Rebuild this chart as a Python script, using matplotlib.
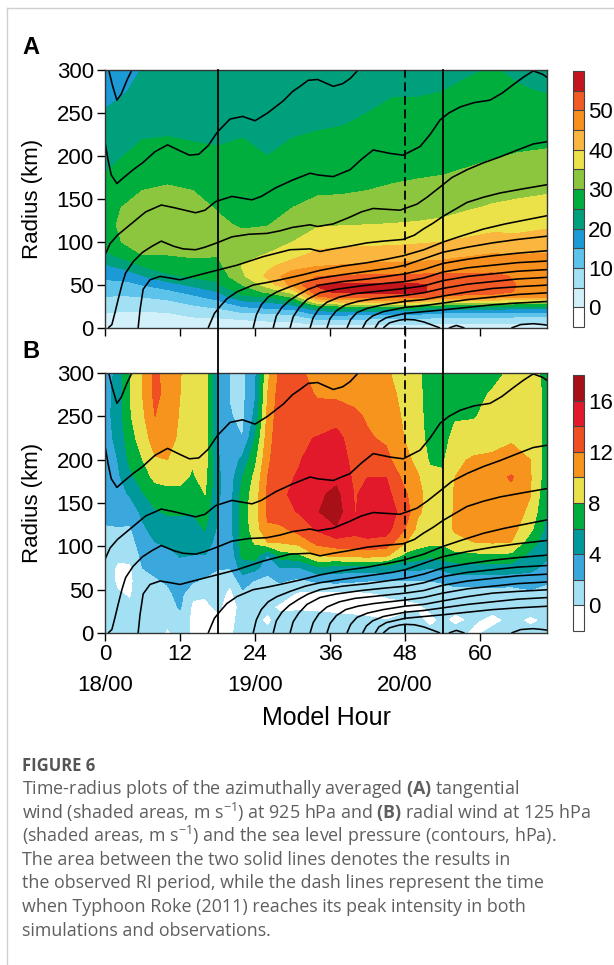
import numpy as np
import matplotlib
matplotlib.use('Agg')
import matplotlib.pyplot as plt
from matplotlib.lines import Line2D
import matplotlib.transforms as mtransforms

plt.rcParams['font.family'] = ['Liberation Sans', 'DejaVu Sans']
plt.rcParams['mathtext.fontset'] = 'custom'
plt.rcParams['mathtext.rm'] = 'Open Sans'
plt.rcParams['mathtext.bf'] = 'Open Sans:bold'
plt.rcParams['mathtext.it'] = 'Open Sans:italic'

# ---------------- data ----------------
# Panel A: tangential wind (m/s) at 925 hPa ; rows = hours_A, columns = radius_A
hours_A = [0, 3, 6, 10, 14, 18, 22, 26, 30, 34, 38, 42, 46, 50, 54, 58, 62, 66, 71]
radius_A = [0, 10, 18, 24, 30, 36, 42, 50, 60, 72, 85, 100, 120, 140, 160, 180, 200, 225, 250, 275, 300]
vt_A = [
    [1, 3, 5.2, 6.6, 8.2, 9.8, 11.3, 13.4, 16, 19.2, 23.8, 27, 28.5, 28.8, 27.5, 25, 23.8, 22.3, 20.3, 18.8, 17.5],
    [1, 2.8, 4.6, 6.2, 7.7, 9.5, 11.2, 13.4, 16.5, 21.5, 26.8, 30.4, 31, 30.2, 28.5, 27, 25, 23.2, 21.5, 19.7, 18.5],
    [1, 2.8, 4.6, 6.2, 8, 10, 11.8, 15, 19.5, 25, 30, 31.5, 32, 31.5, 30, 28, 26.3, 24.6, 22.8, 21.3, 20.2],
    [1, 3, 5, 7.3, 9, 11.2, 13.7, 17.5, 24, 27.5, 30, 31.5, 32.5, 32, 30.8, 28.3, 26.8, 24.8, 23.2, 22, 21],
    [1.5, 4, 6.8, 8.9, 11.2, 13.8, 16.5, 21, 25.8, 28.5, 30.5, 31.5, 32, 31.3, 30, 28, 26, 24.5, 23.2, 22.2, 21.3],
    [1.5, 4.2, 7.6, 10.5, 13.7, 16.7, 19.8, 24, 26.5, 28.5, 30.3, 31.5, 30.8, 29.7, 28.5, 27.2, 25.6, 24.3, 23.2, 22.2, 21.3],
    [2, 5.1, 10, 14.3, 18.6, 24, 27, 30, 34.2, 35.4, 33.5, 31.5, 29.5, 28.5, 27.8, 27, 26, 24.8, 23.7, 22.7, 21.7],
    [2.5, 5.6, 10.5, 16, 20, 25, 31, 37, 41, 39, 35.3, 32.5, 29.8, 28.6, 27.5, 26.2, 25, 24.3, 23.5, 22.5, 21.5],
    [2.5, 6, 12, 17, 24, 30.5, 37, 46.5, 48.5, 42.5, 38.3, 35, 32.3, 30, 28.3, 27, 26, 24.8, 23.8, 22.8, 22],
    [2, 10, 17.5, 25, 37.5, 49, 54.2, 55.3, 50, 44.9, 41.5, 37.8, 34.5, 31.5, 29.3, 27.8, 26.5, 25.2, 24, 23, 22.3],
    [2, 10, 18, 27, 40, 51.5, 55.8, 56, 50.5, 45.4, 42, 38.5, 34.8, 31.6, 29.5, 28, 26.8, 25.4, 24.4, 23.4, 22.6],
    [2, 9.5, 17.5, 27, 40, 52, 56.2, 56, 50.8, 46, 42.3, 38.8, 35, 32, 30, 28.5, 27.3, 26, 25, 24, 23],
    [2, 9, 17, 26.5, 40, 52, 56.2, 56, 51, 46.3, 42.5, 39, 35.2, 32.5, 30.5, 29.2, 28, 26.5, 25.5, 24.8, 24],
    [2, 9, 17, 26.5, 40, 51.5, 55.8, 55.6, 51, 46.5, 42.8, 39.5, 35.5, 33, 31, 29.5, 28.3, 27, 25.8, 24.7, 24.5],
    [2, 8, 15.5, 24, 37, 48.5, 53.5, 54, 51.2, 46.8, 43.5, 40, 36, 33.5, 31.5, 29.8, 28.5, 27.2, 26, 25, 24],
    [2, 8, 15, 23.5, 36, 48, 52.8, 53.5, 51.2, 47.3, 44.5, 41, 37.3, 34.5, 32.3, 30.5, 29, 27.7, 26.5, 25.7, 24.6],
    [2, 8, 15, 23, 35.5, 47.5, 52.2, 52.8, 51, 48, 45.3, 42, 38.3, 35.5, 33.3, 31.3, 29.7, 28.2, 27, 26, 25.2],
    [2, 7.5, 14.5, 22, 34, 45.5, 49.5, 49.8, 49.5, 48, 45, 41.5, 38.5, 36, 34, 32, 30.3, 28.3, 26.5, 25.3, 24.5],
    [2, 7.5, 14.5, 22, 34, 45.5, 49.3, 49.7, 49.5, 48.3, 45.5, 42.3, 39.3, 36.8, 34.5, 32.3, 30.7, 28.7, 26.8, 24.8, 24],
]

# Panel B: radial wind (m/s) at 125 hPa ; rows = hours_B, columns = radius_B
hours_B = [0, 2, 4, 6, 8, 10, 12, 14, 16, 18, 20, 22, 24, 26, 28, 31, 34, 37, 40, 42,
           45, 48, 50, 52, 54, 56, 59, 62, 65, 68, 71]
radius_B = [0, 15, 30, 45, 60, 75, 90, 105, 120, 140, 160, 180, 200, 225, 250, 275, 300]
vr_B = [
    [1.0, 1.0, 1.2, 1.2, 1.3, 1.4, 1.5, 1.7, 1.9, 2.3, 2.6, 2.8, 3.0, 3.2, 3.3, 3.3, 3.2],
    [0.8, 0.9, 0.6, 0.2, -0.4, -0.4, 0.6, 1.4, 1.9, 2.6, 3.2, 3.6, 4.0, 4.5, 4.8, 4.7, 4.4],
    [0.8, 0.5, 0.3, -0.2, -0.5, -0.3, 0.5, 1.2, 1.8, 2.8, 4.2, 5.5, 6.5, 7.2, 7.8, 8.0, 8.0],
    [0.6, 0.8, 1.0, 1.2, 1.5, 2.0, 2.5, 3.0, 3.6, 4.5, 5.8, 7.0, 8.0, 9.0, 9.6, 10.0, 10.0],
    [0.8, 0.8, 1.0, 1.4, 1.8, 2.4, 3.2, 4.0, 4.8, 5.8, 7.0, 8.5, 9.8, 11.0, 12.0, 12.5, 12.5],
    [-0.3, 0.5, 1.2, 1.6, 2.2, 2.8, 3.5, 4.3, 5.2, 6.2, 7.3, 8.7, 10.0, 10.8, 11.2, 11.3, 11.2],
    [0.8, 1.2, 2.2, 2.6, 3.0, 3.5, 4.1, 4.8, 5.4, 6.2, 7.5, 8.5, 9.2, 9.6, 9.8, 10.0, 10.1],
    [-0.3, -0.4, -0.3, 0.3, 2.3, 3.2, 4.0, 4.6, 5.3, 6.1, 7.2, 7.8, 8.2, 8.6, 8.9, 9.0, 9.0],
    [-0.2, -0.5, -0.4, 0.2, 1.5, 3.0, 4.0, 5.0, 6.1, 7.0, 8.0, 8.6, 8.8, 9.0, 9.0, 9.0, 9.0],
    [-0.3, -0.5, 0.3, 0.8, 1.5, 2.1, 2.8, 3.3, 3.7, 4.0, 4.2, 4.3, 4.2, 4.1, 4.0, 3.9, 3.8],
    [-0.2, -0.6, -0.7, -0.5, 0.3, 2.0, 2.6, 3.0, 3.2, 3.3, 3.2, 3.0, 2.7, 2.3, 2.1, 1.9, 1.9],
    [0.5, 0.8, 0.5, 1.5, 3.0, 5.0, 6.5, 7.0, 6.8, 7.0, 6.8, 6.0, 4.5, 2.0, 1.6, 1.5, 1.6],
    [0.3, 0.4, 0.6, 1.0, 1.8, 4.6, 7.0, 8.2, 9.0, 9.2, 9.0, 8.5, 7.5, 6.0, 4.5, 3.8, 3.5],
    [0.3, -0.3, 0.3, 1.0, 1.5, 2.6, 3.9, 10.0, 11.8, 12.3, 12.3, 12.0, 11.5, 11.0, 10.5, 10.0, 9.5],
    [0.8, 0.5, -0.3, 0.8, 2.2, 4.0, 7.0, 10.2, 11.5, 13.5, 13.8, 13.7, 13.6, 13.5, 13.3, 13.0, 12.5],
    [0.7, 0.5, -0.2, -0.3, 1.5, 3.8, 7.6, 10.8, 12.8, 14.1, 14.3, 14.1, 13.9, 13.7, 13.4, 12.9, 12.4],
    [0.8, 0.5, -0.3, -0.5, 2.3, 5.5, 10.3, 12.6, 14.3, 15.9, 15.6, 15.0, 14.6, 14.1, 12.9, 11.8, 11.2],
    [0.8, 0.4, -0.4, -0.5, 2.5, 5.0, 10.5, 13.3, 15.8, 17.0, 16.5, 15.5, 15.0, 14.6, 13.3, 11.6, 11.0],
    [0.6, 0.3, -0.5, -0.5, 2.2, 5.0, 10.8, 13.4, 14.6, 13.9, 13.8, 13.6, 13.4, 13.0, 12.3, 11.5, 11.0],
    [0.5, 0.2, -0.5, -0.3, 2.0, 5.0, 11.0, 13.6, 15.0, 15.0, 14.7, 14.0, 12.8, 12.2, 11.8, 11.3, 11.0],
    [0.4, 0.0, -0.5, 0.2, 2.0, 5.0, 10.5, 13.3, 14.8, 15.0, 14.6, 14.0, 12.5, 11.7, 11.0, 10.6, 10.2],
    [0.5, 0.3, -0.3, 0.3, 1.8, 4.5, 7.5, 10.2, 12.0, 13.2, 12.3, 11.3, 10.5, 9.9, 9.7, 9.5, 9.3],
    [0.4, 0.3, -0.2, 0.4, 2.0, 4.5, 7.2, 8.8, 9.5, 10.3, 10.6, 10.2, 9.5, 9.0, 8.8, 8.6, 8.5],
    [0.3, -0.3, 0.2, 0.8, 2.0, 4.0, 6.5, 8.5, 9.2, 9.4, 9.2, 8.6, 7.7, 7.2, 7.0, 7.0, 6.8],
    [0.6, 0.2, 0.4, 1.0, 2.2, 4.5, 7.0, 8.3, 8.8, 9.0, 8.8, 8.3, 7.7, 7.3, 7.0, 6.9, 6.8],
    [0.5, -0.3, 0.3, 1.0, 2.8, 5.0, 7.5, 9.3, 10.3, 10.2, 10.2, 10.0, 9.5, 8.6, 7.8, 7.3, 7.0],
    [-0.3, 0.2, 0.5, 1.0, 2.8, 5.2, 7.6, 10.0, 10.8, 11.0, 11.0, 10.8, 10.3, 8.6, 7.9, 7.5, 7.2],
    [0.4, -0.4, 0.5, 1.2, 2.8, 5.2, 7.8, 10.2, 11.0, 11.3, 11.5, 11.3, 10.5, 9.0, 8.5, 8.2, 7.5],
    [0.5, 0.3, 0.2, 1.0, 2.8, 5.0, 7.6, 10.0, 10.8, 11.2, 11.5, 12.2, 10.6, 9.8, 9.3, 8.8, 8.3],
    [0.3, -0.2, 0.5, 1.5, 3.0, 4.5, 5.5, 7.0, 8.5, 9.5, 10.1, 10.2, 10.0, 9.6, 9.3, 9.0, 8.5],
    [0.4, 0.2, 0.5, 1.2, 2.2, 3.3, 4.2, 4.6, 5.0, 5.5, 6.0, 6.5, 6.8, 7.0, 7.2, 7.4, 7.5],
]

# Sea-level-pressure isobars: radius (km) of each contour vs model hour
p01_hours = [0.6, 1.2, 1.9, 2.6, 3.5, 4.3]
p01_radius = [300, 282, 265, 272, 288, 300]
p02_hours = [0, 0.5, 1, 1.9, 3, 4.5, 6, 8, 10, 12, 13.5, 15, 16.5, 18, 20, 22, 24, 26, 28.5, 30,
             31.2, 32.5, 34, 36.5, 38, 39.2, 40.5]
p02_radius = [216, 195, 178, 168, 175, 184, 192, 205, 213, 206, 201, 202, 212, 228, 243, 246, 241,
              250, 264, 275, 281, 288, 289, 281, 284, 290, 300]
p03_hours = [0, 0.8, 2, 4, 6.5, 9, 11, 14.5, 16, 17.7, 20.3, 23.5, 25, 27.3, 30, 32.8, 34, 36.5,
             39.2, 41, 42.9, 45.6, 47.7, 50.4, 52, 53.6, 55, 56.8, 59, 61.6, 63.5, 65.3, 67, 68.5, 70, 71]
p03_radius = [85, 98, 108, 120, 135, 143, 140, 134, 137, 147, 153, 149, 153, 163, 172, 180, 178, 176,
              184, 196, 207, 203, 201, 211, 225, 242, 250, 257, 262, 265, 273, 283, 292, 299, 295, 290]
p04_hours = [0.5, 1.1, 1.6, 2.1, 2.7, 3.3, 4.5, 6, 7.5, 9, 11, 12.5, 14.5, 16, 17.9, 20.3, 23, 25.9,
             28, 30, 32.8, 34, 36.5, 39.2, 41, 42.9, 45, 47.2, 49.9, 51.5, 53.6, 55.5, 57.9, 60.5,
             63.2, 66, 68.5, 71]
p04_radius = [0, 4, 18, 33, 50, 64, 77, 88, 95, 101, 95, 92, 91, 94, 99, 106, 109, 110, 113, 117,
              120, 118, 121, 129, 135, 139, 138, 137, 144, 152, 164, 175, 184, 192, 199, 207, 214, 217]
p05_hours = [5.3, 5.6, 6.1, 7.2, 8.8, 10.5, 12, 14.1, 17.3, 21.1, 25.3, 29.6, 32.8, 34.4, 36.5, 39,
             41.9, 44.5, 47.7, 49.5, 50.9, 52.5, 54.1, 56, 57.9, 60.5, 63.2, 67, 71]
p05_radius = [0, 21, 45, 56, 60, 58, 56, 60, 66, 73, 83, 91, 92, 89, 92, 95, 99, 101, 103, 108, 115,
              122, 130, 138, 146, 152, 157, 162, 167]
p06_hours = [16.5, 17.5, 18.4, 19.5, 21.1, 23.7, 26, 28, 31.7, 34.4, 38, 42, 45, 47.7, 51, 54.1,
             57, 60.5, 64, 67.5, 71]
p06_radius = [0, 17, 25, 34, 42, 50, 53, 56, 62, 67, 72, 76, 80, 84, 91, 100, 107, 115, 121, 126, 131]
p07_hours = [23.7, 24.2, 25, 26.1, 27.5, 29.6, 32, 34.4, 38, 42, 46, 48, 50, 54, 58, 62, 66, 71]
p07_radius = [0, 15, 27, 36, 42, 48, 54, 58, 62, 66, 70, 73, 78, 88, 94, 99, 103, 107]
p08_hours = [26.9, 27.4, 28.3, 29.5, 31, 32.5, 34.4, 38, 42, 46, 48, 51, 54, 58, 62, 66, 71]
p08_radius = [0, 14, 24, 32, 39, 45, 50, 54, 57, 61, 63, 68, 75, 80, 84, 87, 90]
p09_hours = [29.6, 30.1, 31, 32.3, 34.4, 37, 41, 45, 48, 51, 54, 58, 62, 66, 71]
p09_radius = [0, 13, 23, 33, 41, 45, 49, 52, 54, 58, 65, 70, 73, 76, 78]
p10_hours = [32.8, 33.3, 34.2, 35.5, 37.5, 40, 44, 48, 51, 54, 58, 62, 66, 71]
p10_radius = [0, 12, 22, 30, 36, 40, 43, 46, 49, 55, 60, 63, 66, 68]
p11_hours = [35.5, 36, 37, 38.5, 40.5, 43, 48, 51, 54, 58, 62, 66, 71]
p11_radius = [0, 11, 20, 27, 31, 34, 38, 41, 46, 51, 54, 57, 59]
p12_hours = [38.7, 39.3, 40.3, 42, 44.5, 48, 51, 54, 58, 62, 66, 71]
p12_radius = [0, 10, 18, 23, 27, 31, 33, 37, 42, 46, 48, 50]
p13_hours = [41.2, 41.8, 42.8, 44.5, 48, 51, 54, 58, 62, 66, 71]
p13_radius = [0, 8, 14, 19, 24, 26, 29, 33, 36, 39, 41]
p14_hours = [43.2, 43.8, 45, 48, 51, 54, 58, 62, 66, 71]
p14_radius = [0, 7, 12, 17, 19, 21, 24, 27, 29, 31]
p15_hours = [44.5, 45.5, 47, 48, 49.5, 51, 52.5, 53.6]
p15_radius = [0, 6, 9, 10, 9.5, 7, 3, 0]
p16_hours = [55, 56.2, 57.5]
p16_radius = [0, 3, 0]
p17_hours = [65, 66.5, 68.5, 70, 71]
p17_radius = [0, 4, 5, 4, 3]

isobars = [(p01_hours, p01_radius), (p02_hours, p02_radius), (p03_hours, p03_radius),
           (p04_hours, p04_radius), (p05_hours, p05_radius), (p06_hours, p06_radius),
           (p07_hours, p07_radius), (p08_hours, p08_radius), (p09_hours, p09_radius),
           (p10_hours, p10_radius), (p11_hours, p11_radius), (p12_hours, p12_radius),
           (p13_hours, p13_radius), (p14_hours, p14_radius), (p15_hours, p15_radius),
           (p16_hours, p16_radius), (p17_hours, p17_radius)]

ri_period_hours = [18, 54]
peak_hour = [48]

levels_A = list(range(-5, 61, 5))
colors_A = ['#ffffff', '#d2f0f9', '#a3e0f4', '#5ec3ea', '#1b9ad6', '#00a07c', '#00ae3e',
            '#8cc63e', '#ebe24a', '#fbb640', '#f7901e', '#f15a24', '#c5161d']
cbar_ticks_A = [0, 10, 20, 30, 40, 50]
levels_B = list(range(-2, 19, 2))
colors_B = ['#ffffff', '#a3e0f4', '#3aa8dc', '#00999b', '#00ae3e', '#e9e14b', '#f7941d',
            '#f04e23', '#e1192b', '#a61016']
cbar_ticks_B = [0, 4, 8, 12, 16]

xticks = [0, 12, 24, 36, 48, 60]
xticklabels = ['0\n18/00', '12', '24\n19/00', '36', '48\n20/00', '60']
yticks = [0, 50, 100, 150, 200, 250, 300]

caption_title = 'FIGURE 6'
caption_lines = [
    r'Time-radius plots of the azimuthally averaged $\mathbf{(A)}$ tangential',
    r'wind (shaded areas, m s$^{-1}$) at 925 hPa and $\mathbf{(B)}$ radial wind at 125 hPa',
    r'(shaded areas, m s$^{-1}$) and the sea level pressure (contours, hPa).',
    'The area between the two solid lines denotes the results in',
    'the observed RI period, while the dash lines represent the time',
    'when Typhoon Roke (2011) reaches its peak intensity in both',
    'simulations and observations.',
]

# ---------------- figure ----------------
W, H = 614, 965
fig = plt.figure(figsize=(W / 100, H / 100), dpi=100)


def fx(px):
    return px / W


def fy(py):
    return 1 - py / H


ax_left, ax_right = 105, 547
axA = fig.add_axes([fx(ax_left), fy(328), fx(ax_right) - fx(ax_left), fy(70) - fy(328)])
axB = fig.add_axes([fx(ax_left), fy(633), fx(ax_right) - fx(ax_left), fy(373) - fy(633)])
caxA = fig.add_axes([fx(573), fy(327), fx(584) - fx(573), fy(71) - fy(327)])
caxB = fig.add_axes([fx(573), fy(631), fx(584) - fx(573), fy(375) - fy(631)])

TA, RA = np.meshgrid(hours_A, radius_A)
ZA = np.array(vt_A).T
TB, RB = np.meshgrid(hours_B, radius_B)
ZB = np.array(vr_B).T

cfA = axA.contourf(TA, RA, ZA, levels=levels_A, colors=colors_A)
cfB = axB.contourf(TB, RB, ZB, levels=levels_B, colors=colors_B)

for ax in (axA, axB):
    for th, rr in isobars:
        ax.plot(th, rr, color='black', lw=1.15, solid_capstyle='butt')
    ax.set_xlim(0, 70.7)
    ax.set_ylim(0, 300)
    ax.set_yticks(yticks)
    ax.set_xticks(xticks)
    ax.tick_params(direction='out', length=6, width=1, labelsize=16, colors='black', pad=2)
    for sp in ax.spines.values():
        sp.set_color('#333333')
        sp.set_linewidth(1.0)
    ax.set_ylabel('Radius (km)', fontsize=16)
    ax.yaxis.set_label_coords(-0.14, 0.5)

axA.set_xticklabels([])
axB.set_xticklabels(xticklabels)
for lbl in axB.get_xticklabels():
    lbl.set_linespacing(1.6)
axB.set_xlabel('Model Hour', fontsize=18)
axB.xaxis.set_label_coords(0.5, -0.28)

# vertical lines spanning both panels
trans = mtransforms.blended_transform_factory(axA.transData, fig.transFigure)
for t in ri_period_hours:
    fig.add_artist(Line2D([t, t], [fy(633), fy(70)], transform=trans, color='black', lw=1.3))
for t in peak_hour:
    fig.add_artist(Line2D([t, t], [fy(633), fy(70)], transform=trans, color='black', lw=1.3,
                          linestyle=(0, (5, 2.5))))

# colorbars
for cf, cax, ticks in ((cfA, caxA, cbar_ticks_A), (cfB, caxB, cbar_ticks_B)):
    cb = fig.colorbar(cf, cax=cax, ticks=ticks, drawedges=True)
    cb.outline.set_edgecolor('#444444')
    cb.outline.set_linewidth(0.8)
    cb.dividers.set_color('#444444')
    cb.dividers.set_linewidth(0.8)
    cax.tick_params(length=0, labelsize=16, pad=3)

# panel labels
fig.text(fx(22), fy(48), 'A', fontsize=17, fontweight='bold', ha='left', va='center')
fig.text(fx(22), fy(352), 'B', fontsize=17, fontweight='bold', ha='left', va='center')

# page frame
fig.add_artist(Line2D([fx(7), fx(7)], [fy(8), 0], transform=fig.transFigure, color='#cfcfcf', lw=1))
fig.add_artist(Line2D([fx(7), 1], [fy(8), fy(8)], transform=fig.transFigure, color='#cfcfcf', lw=1))

# caption
fig.text(fx(22), fy(766), caption_title, fontsize=12, fontweight='bold', color='#555555',
         family='Open Sans', ha='left', va='center')
for i, line in enumerate(caption_lines):
    fig.text(fx(22), fy(789 + 23.6 * i), line, fontsize=12.9, color='#5f5f5f',
             family='Open Sans', ha='left', va='center')

fig.savefig('out.png', dpi=100)
